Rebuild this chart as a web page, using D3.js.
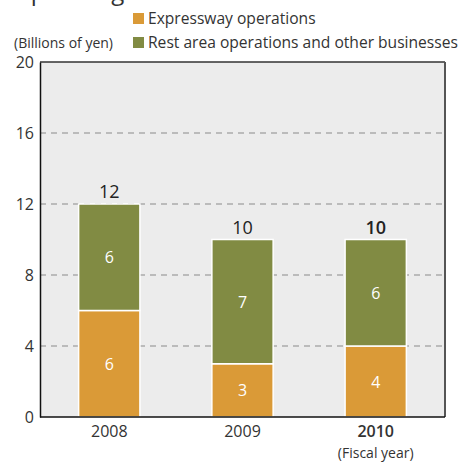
<!DOCTYPE html>
<html><head><meta charset="utf-8">
<script src="https://cdn.jsdelivr.net/npm/d3@7"></script>
<style>body{margin:0;background:#fff}text{font-family:"Open Sans","Noto Sans",sans-serif}</style>
</head><body><svg id="c" width="469" height="463"></svg>
<script>
const categories = ["2008", "2009", "2010"];
const expressway = [6, 3, 4];
const restArea = [6, 7, 6];
const totals = [12, 10, 10];
const yTicks = [0, 4, 8, 12, 16, 20];
const seriesNames = ["Expressway operations", "Rest area operations and other businesses"];
const colors = ["#DA9A37", "#818B43"];

const svg = d3.select("#c");
const L = 40, R = 445, T = 62, B = 417;
const x = d3.scaleBand().domain(categories).range([L, R]).paddingInner(0.54).paddingOuter(0.29);
const y = d3.scaleLinear().domain([0, 20]).range([B, T]);

svg.append("text").attr("x", 12).attr("y", 0).attr("font-size", 24).attr("fill", "#333").text("Operating Income");

svg.append("rect").attr("x", L).attr("y", T).attr("width", R - L).attr("height", B - T).attr("fill", "#ECECEC");

svg.append("g").selectAll("line").data(yTicks.filter(d => d > 0 && d < 20)).join("line")
  .attr("x1", L).attr("x2", R).attr("y1", d => y(d)).attr("y2", d => y(d))
  .attr("stroke", "#8a8a8a").attr("stroke-width", 1).attr("stroke-dasharray", "6,5");

const data = categories.map((c, i) => ({c, e: expressway[i], r: restArea[i], t: totals[i]}));
const stack = d3.stack().keys(["e", "r"])(data);
svg.append("g").selectAll("g").data(stack).join("g").attr("fill", (d, i) => colors[i])
  .selectAll("rect").data(d => d).join("rect")
  .attr("x", d => x(d.data.c)).attr("width", x.bandwidth())
  .attr("y", d => y(d[1])).attr("height", d => y(d[0]) - y(d[1]))
  .attr("stroke", "#fff").attr("stroke-width", 1.5);

svg.append("g").selectAll("text").data(stack.flatMap(s => s.map(d => ({v: d[1] - d[0], mid: (d[0] + d[1]) / 2, c: d.data.c})))).join("text")
  .attr("x", d => x(d.c) + x.bandwidth() / 2).attr("y", d => y(d.mid) + 6)
  .attr("text-anchor", "middle").attr("font-size", 16).attr("fill", "#fff").text(d => d.v);

svg.append("g").selectAll("text").data(data).join("text")
  .attr("x", d => x(d.c) + x.bandwidth() / 2).attr("y", d => y(d.t) - 6)
  .attr("text-anchor", "middle").attr("font-size", 18).attr("fill", "#222")
  .attr("font-weight", (d, i) => i === 2 ? "600" : "normal").text(d => d.t);

// frame
svg.append("line").attr("x1", L).attr("x2", R).attr("y1", T).attr("y2", T).attr("stroke", "#333").attr("stroke-width", 1.5);
svg.append("line").attr("x1", R).attr("x2", R).attr("y1", T).attr("y2", B).attr("stroke", "#555").attr("stroke-width", 2);

const yAxis = svg.append("g").attr("transform", `translate(${L},0)`)
  .call(d3.axisLeft(y).tickValues(yTicks).tickSize(0).tickPadding(6));
yAxis.select(".domain").attr("stroke", "#111").attr("stroke-width", 1.5);
yAxis.selectAll("text").attr("font-size", 16).attr("fill", "#333").attr("font-family", "Open Sans, sans-serif");

const xAxis = svg.append("g").attr("transform", `translate(0,${B})`)
  .call(d3.axisBottom(x).tickSize(0).tickPadding(9));
xAxis.select(".domain").attr("stroke", "#111").attr("stroke-width", 1.5).attr("d", `M${L},0H${R}`);
xAxis.selectAll("text").attr("font-size", 16).attr("fill", "#333").attr("font-family", "Open Sans, sans-serif")
  .attr("font-weight", (d, i) => i === 2 ? "600" : "normal");
svg.append("text").attr("x", x("2010") + x.bandwidth() / 2).attr("y", 458).attr("text-anchor", "middle")
  .attr("font-size", 14).attr("fill", "#333").text("(Fiscal year)");

// legend
svg.append("text").attr("x", 14).attr("y", 48).attr("font-size", 14).attr("fill", "#333").text("(Billions of yen)");
const lg = svg.append("g").selectAll("g").data(seriesNames).join("g")
  .attr("transform", (d, i) => `translate(133,${13 + i * 24})`);
lg.append("rect").attr("width", 11).attr("height", 11).attr("fill", (d, i) => colors[i]);
lg.append("text").attr("x", 15).attr("y", 11).attr("font-size", 15.6).attr("fill", "#333").text(d => d);
</script></body></html>
